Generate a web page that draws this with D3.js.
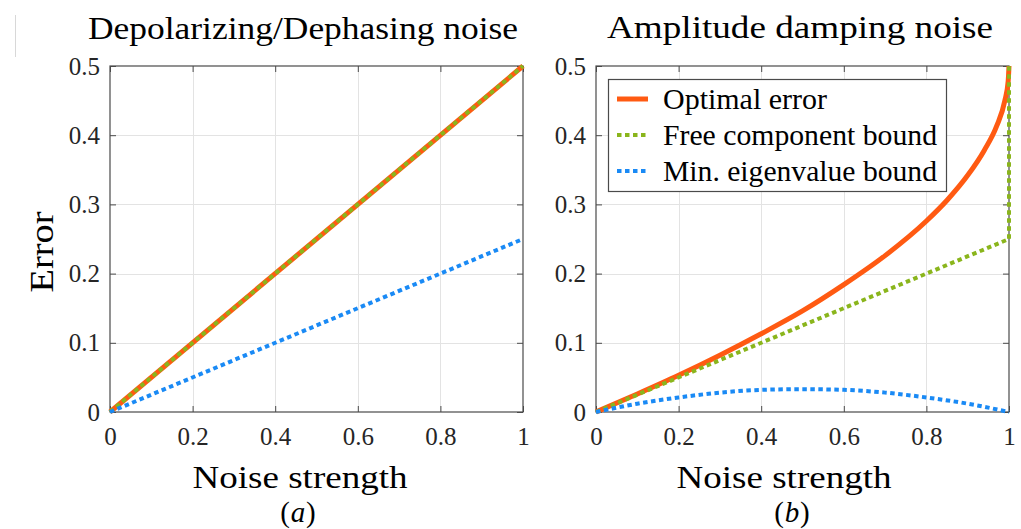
<!DOCTYPE html>
<html>
<head>
<meta charset="utf-8">
<script src="https://cdn.jsdelivr.net/npm/d3@7"></script>
<style>
  body { margin: 0; background: #fff; }
  svg { display: block; }
</style>
</head>
<body>
<div id="chart"></div>
<script>
// tick values, shared by both panels
const xTicks = [0, 0.2, 0.4, 0.6, 0.8, 1];
const yTicks = [0, 0.1, 0.2, 0.3, 0.4, 0.5];

// (a) depolarizing / dephasing
const depNoise = [0, 1];
const depOptimal = [0, 0.5];
const depFree = [0, 0.5];
const depMinEig = [0, 0.25];

// (b) amplitude damping
const ampNoise = [0, 0.1, 0.2, 0.3, 0.4, 0.5, 0.6, 0.7, 0.8, 0.85, 0.9, 0.94, 0.97, 0.99, 0.998, 1];
const ampOptimal = [0, 0.026, 0.053, 0.082, 0.113, 0.146, 0.184, 0.226, 0.276, 0.306, 0.342, 0.378, 0.413, 0.45, 0.478, 0.5];
const ampFreeNoise = [0, 1, 1];
const ampFree = [0, 0.25, 0.5];
const ampEigNoise = [0, 0.1, 0.2, 0.3, 0.4, 0.5, 0.6, 0.7, 0.8, 0.9, 1];
const ampMinEig = [0, 0.012, 0.021, 0.028, 0.032, 0.033, 0.032, 0.028, 0.021, 0.012, 0];

const legendLabels = ['Optimal error', 'Free component bound', 'Min. eigenvalue bound'];

const colors = { optimal: '#ff5a12', free: '#8ab51c', eig: '#1a8af5' };
const serif = '"Liberation Serif", "Times New Roman", serif';

const width = 1021;
const height = 529;

const svg = d3.select('#chart').append('svg')
  .attr('width', width)
  .attr('height', height);

// stray mark at top left of the scan
svg.append('line')
  .attr('x1', 15.5).attr('x2', 15.5).attr('y1', 15).attr('y2', 57)
  .attr('stroke', '#d8d8d8').attr('stroke-width', 1);

function zip(xs, ys) {
  return xs.map((x, i) => [x, ys[i]]);
}

function addText(parent, x, y, str, size, opts = {}) {
  const t = parent.append('text')
    .attr('x', x).attr('y', y)
    .attr('text-anchor', opts.anchor || 'middle')
    .style('font-family', serif)
    .style('font-size', size + 'px')
    .style('font-style', opts.italic ? 'italic' : 'normal')
    .attr('fill', '#000')
    .text(str);
  if (opts.len) {
    t.attr('textLength', opts.len).attr('lengthAdjust', 'spacingAndGlyphs');
  }
  return t;
}

function drawPanel(opts) {
  const x = d3.scaleLinear().domain([0, 1]).range([opts.left, opts.right]);
  const y = d3.scaleLinear().domain([0, 0.5]).range([412, 66]);
  const g = svg.append('g');

  // grid
  g.append('g').selectAll('line')
    .data(xTicks.slice(1, -1))
    .enter().append('line')
      .attr('x1', d => Math.round(x(d)) + 0.5).attr('x2', d => Math.round(x(d)) + 0.5)
      .attr('y1', y(0)).attr('y2', y(0.5))
      .attr('stroke', '#e3e3e3');
  g.append('g').selectAll('line')
    .data(yTicks.slice(1, -1))
    .enter().append('line')
      .attr('y1', d => Math.round(y(d)) + 0.5).attr('y2', d => Math.round(y(d)) + 0.5)
      .attr('x1', x(0)).attr('x2', x(1))
      .attr('stroke', '#e3e3e3');

  // axes, ticks point inward
  const axisColor = '#4a4a4a';
  const bottom = g.append('g')
    .attr('transform', `translate(0,${y(0)})`)
    .call(d3.axisBottom(x).tickValues(xTicks).tickFormat(d => d)
      .tickSizeInner(-6).tickSizeOuter(0).tickPadding(33));
  const left = g.append('g')
    .attr('transform', `translate(${x(0)},0)`)
    .call(d3.axisLeft(y).tickValues(yTicks).tickFormat(d => d)
      .tickSizeInner(-6).tickSizeOuter(0).tickPadding(10));
  const top = g.append('g')
    .attr('transform', `translate(0,${y(0.5)})`)
    .call(d3.axisTop(x).tickValues(xTicks).tickFormat('')
      .tickSizeInner(-6).tickSizeOuter(0));
  const right = g.append('g')
    .attr('transform', `translate(${x(1)},0)`)
    .call(d3.axisRight(y).tickValues(yTicks).tickFormat('')
      .tickSizeInner(-6).tickSizeOuter(0));

  [bottom, left, top, right].forEach(a => {
    a.attr('font-family', null);
    a.select('.domain').remove();
    a.selectAll('line').attr('stroke', axisColor);
    a.selectAll('text')
      .attr('fill', '#262626')
      .style('font-family', serif)
      .style('font-size', '25px');
  });
  bottom.selectAll('text').attr('dy', '0');

  g.append('rect')
    .attr('x', x(0)).attr('y', y(0.5))
    .attr('width', x(1) - x(0)).attr('height', y(0) - y(0.5))
    .attr('fill', 'none')
    .attr('stroke', axisColor)
    .attr('stroke-width', 1.2);

  // series
  opts.series.forEach(s => {
    const line = d3.line()
      .x(d => x(d[0]))
      .y(d => y(d[1]))
      .curve(s.curve || d3.curveMonotoneX);
    g.append('path')
      .datum(s.points)
      .attr('d', line)
      .attr('fill', 'none')
      .attr('stroke', s.color)
      .attr('stroke-width', s.width)
      .attr('stroke-dasharray', s.dash || null)
      .attr('stroke-linejoin', 'round');
  });

  // texts
  addText(g, opts.titleX, opts.titleY, opts.title, 32, { len: opts.titleLen });
  addText(g, opts.xlabelX, 488, 'Noise strength', 32, { len: 215 });
  addText(g, opts.tagX - 8, 522, '(', 29, { anchor: 'end' });
  addText(g, opts.tagX, 522, opts.tag, 29, { italic: true });
  addText(g, opts.tagX + 8, 522, ')', 29, { anchor: 'start' });

  return { g, x, y };
}

drawPanel({
  left: 110, right: 523,
  title: 'Depolarizing/Dephasing noise', titleX: 303, titleY: 39, titleLen: 430,
  xlabelX: 300, tagX: 298, tag: 'a',
  series: [
    { points: zip(depNoise, depOptimal), color: colors.optimal, width: 5 },
    { points: zip(depNoise, depFree), color: colors.free, width: 4, dash: '4.5,3.5' },
    { points: zip(depNoise, depMinEig), color: colors.eig, width: 4, dash: '4.5,3.5' }
  ]
});

drawPanel({
  left: 596, right: 1009,
  title: 'Amplitude damping noise', titleX: 800, titleY: 38, titleLen: 386,
  xlabelX: 784, tagX: 792, tag: 'b',
  series: [
    { points: zip(ampNoise, ampOptimal), color: colors.optimal, width: 5 },
    { points: zip(ampFreeNoise, ampFree), color: colors.free, width: 4, dash: '4.5,3.5', curve: d3.curveLinear },
    { points: zip(ampEigNoise, ampMinEig), color: colors.eig, width: 4, dash: '4.5,3.5' }
  ]
});

// y label, left panel only
addText(svg.append('g').attr('transform', 'translate(53,252) rotate(-90)'),
  0, 0, 'Error', 33, { len: 81 });

// legend in panel (b)
const legend = svg.append('g');
legend.append('rect')
  .attr('x', 608.5).attr('y', 79.5)
  .attr('width', 338).attr('height', 112)
  .attr('fill', '#fff')
  .attr('stroke', '#4a4a4a')
  .attr('stroke-width', 1.2);

const legendStyle = [
  { color: colors.optimal, width: 5, dash: null },
  { color: colors.free, width: 4, dash: '4.5,3.5' },
  { color: colors.eig, width: 4, dash: '4.5,3.5' }
];
const legendLens = [164, 274, 274];

legend.selectAll('g.item')
  .data(legendLabels)
  .enter().append('g')
    .attr('class', 'item')
    .attr('transform', (d, i) => `translate(617,${99 + i * 36})`)
    .each(function (d, i) {
      const item = d3.select(this);
      item.append('line')
        .attr('x1', 0).attr('x2', 31)
        .attr('stroke', legendStyle[i].color)
        .attr('stroke-width', legendStyle[i].width)
        .attr('stroke-dasharray', legendStyle[i].dash);
      addText(item, 46, 10, d, 30, { anchor: 'start', len: legendLens[i] });
    });
</script>
</body>
</html>
